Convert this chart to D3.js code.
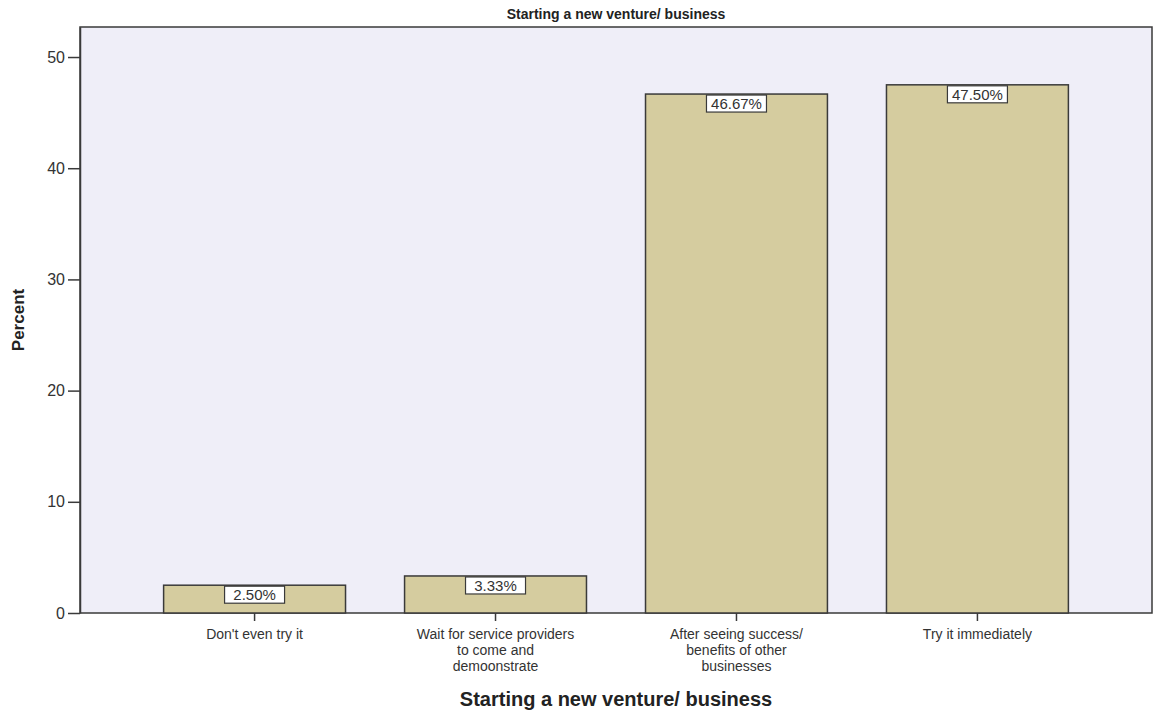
<!DOCTYPE html>
<html>
<head>
<meta charset="utf-8">
<script src="https://cdn.jsdelivr.net/npm/d3@7"></script>
<style>
  body { margin: 0; background: #ffffff; }
  text { font-family: "Liberation Sans", Arial, sans-serif; }
</style>
</head>
<body>
<svg id="chart"></svg>
<script>
var width = 1158;
var height = 715;
var margin = { top: 27, right: 6, bottom: 102, left: 80 };

// data
var categories = [
  ["Don't even try it"],
  ["Wait for service providers", "to come and", "demoonstrate"],
  ["After seeing success/", "benefits of other", "businesses"],
  ["Try it immediately"]
];
var percents = [2.50, 3.33, 46.67, 47.50];
var yTicks = [0, 10, 20, 30, 40, 50];

var keys = categories.map(function(d, i) { return i; });

var svg = d3.select("#chart")
  .attr("width", width)
  .attr("height", height);

var plotW = width - margin.left - margin.right;
var plotH = height - margin.top - margin.bottom;

var g = svg.append("g")
  .attr("transform", "translate(" + margin.left + "," + margin.top + ")");

var x = d3.scaleBand()
  .domain(keys)
  .range([0, plotW])
  .paddingInner(0.245)
  .paddingOuter(0.347);

var y = d3.scaleLinear()
  .domain([0, 52.7])
  .range([plotH, 0]);

// plot background
g.append("rect")
  .attr("width", plotW)
  .attr("height", plotH)
  .attr("fill", "#efeef8")
  .attr("stroke", "#3a3a3a")
  .attr("stroke-width", 1.5);

// bars
g.selectAll(".bar")
  .data(percents)
  .enter()
  .append("rect")
  .attr("class", "bar")
  .attr("x", function(d, i) { return x(i); })
  .attr("width", x.bandwidth())
  .attr("y", function(d) { return y(d); })
  .attr("height", function(d) { return plotH - y(d); })
  .attr("fill", "#d5cc9f")
  .attr("stroke", "#3a3a3a")
  .attr("stroke-width", 1.5);

// value labels in boxes
var lab = g.selectAll(".lab")
  .data(percents)
  .enter()
  .append("g")
  .attr("class", "lab")
  .attr("transform", function(d, i) {
    return "translate(" + (x(i) + x.bandwidth() / 2) + "," + y(d) + ")";
  });

lab.append("rect")
  .attr("x", -30)
  .attr("y", 1)
  .attr("width", 60)
  .attr("height", 17)
  .attr("fill", "#ffffff")
  .attr("stroke", "#3a3a3a")
  .attr("stroke-width", 1.2);

lab.append("text")
  .attr("y", 15)
  .attr("text-anchor", "middle")
  .attr("font-size", 15)
  .attr("fill", "#333")
  .text(function(d) { return d.toFixed(2) + "%"; });

// y axis
var yAxis = g.append("g")
  .call(d3.axisLeft(y).tickValues(yTicks).tickSize(12).tickPadding(3).tickSizeOuter(0));
yAxis.select(".domain").attr("stroke", "#3a3a3a").attr("stroke-width", 1.5);
yAxis.selectAll("line").attr("stroke", "#3a3a3a").attr("stroke-width", 1.5);
yAxis.selectAll("text").attr("font-size", 16).attr("fill", "#333");

// x axis
var xAxis = g.append("g")
  .attr("transform", "translate(0," + plotH + ")")
  .call(d3.axisBottom(x).tickSize(8).tickSizeOuter(0).tickFormat(""));
xAxis.select(".domain").remove();
xAxis.selectAll("line").attr("stroke", "#3a3a3a").attr("stroke-width", 1.5);

// category labels
var cat = g.selectAll(".cat")
  .data(categories)
  .enter()
  .append("text")
  .attr("class", "cat")
  .attr("text-anchor", "middle")
  .attr("font-size", 14)
  .attr("fill", "#333")
  .attr("transform", function(d, i) {
    return "translate(" + (x(i) + x.bandwidth() / 2) + "," + (plotH + 26) + ")";
  });

cat.selectAll("tspan")
  .data(function(d) { return d; })
  .enter()
  .append("tspan")
  .attr("x", 0)
  .attr("dy", function(d, i) { return i === 0 ? 0 : 16; })
  .text(function(d) { return d; });

// chart title
svg.append("text")
  .attr("x", margin.left + plotW / 2)
  .attr("y", 19)
  .attr("text-anchor", "middle")
  .attr("font-size", 14)
  .attr("font-weight", "bold")
  .attr("fill", "#222")
  .text("Starting a new venture/ business");

// x axis title
svg.append("text")
  .attr("x", margin.left + plotW / 2)
  .attr("y", 706)
  .attr("text-anchor", "middle")
  .attr("font-size", 20)
  .attr("font-weight", "bold")
  .attr("fill", "#222")
  .text("Starting a new venture/ business");

// y axis title
svg.append("text")
  .attr("transform", "translate(24," + (margin.top + plotH / 2) + ") rotate(-90)")
  .attr("text-anchor", "middle")
  .attr("font-size", 17)
  .attr("font-weight", "bold")
  .attr("fill", "#222")
  .text("Percent");
</script>
</body>
</html>
